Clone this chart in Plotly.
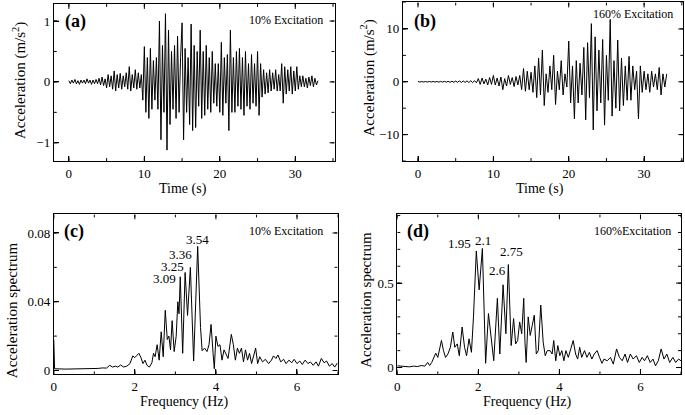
import numpy as np
import plotly.graph_objects as go

# ---------------- data ----------------
dt_a = 0.2
acc_a = [
    0.02, -0.03, 0.03, -0.02, 0.04,
    -0.03, 0.02, -0.04, 0.03, -0.02,
    0.03, -0.03, 0.05, -0.02, 0.03,
    -0.04, 0.03, -0.03, 0.04, -0.03,
    0.06, -0.05, 0.08, -0.06, 0.05,
    -0.10, 0.12, -0.08, 0.10, -0.12,
    0.18, -0.15, 0.12, -0.10, 0.14,
    -0.12, 0.10, -0.08, 0.15, -0.12,
    0.25, -0.15, 0.12, -0.10, 0.20,
    -0.12, 0.15, -0.10, 0.12, -0.30,
    0.58, -0.50, 0.40, -0.60, 0.55,
    -0.45, 0.35, -0.30, 0.40, -0.45,
    1.00, -0.95, 0.60, -0.50, 1.12,
    -1.12, 0.85, -0.70, 0.50, -0.45,
    0.60, -0.60, 0.75, -0.50, 0.40,
    0.97, -0.95, 0.55, -0.50, 0.40,
    -0.70, 0.95, -0.80, 0.60, -0.75,
    0.50, -0.40, 0.85, -0.60, 0.50,
    -0.55, 0.60, -0.45, 0.40, -0.50,
    0.50, -0.35, 0.30, -0.40, 0.30,
    -0.50, 0.65, -0.55, 0.40, -0.35,
    0.45, -0.80, 0.85, -0.50, 0.40,
    -0.50, 0.50, -0.40, 0.55, -0.45,
    0.40, -0.55, 0.50, -0.40, 0.30,
    -0.45, 0.45, -0.35, 0.30, -0.40,
    0.50, -0.55, 0.30, -0.25, 0.20,
    -0.20, 0.15, -0.18, 0.20, -0.15,
    0.15, -0.12, 0.20, -0.15, 0.12,
    -0.15, 0.30, -0.35, 0.25, -0.20,
    0.20, -0.15, 0.25, -0.20, 0.18,
    -0.15, 0.25, -0.12, 0.10, -0.08,
    0.10, -0.08, 0.06, -0.10, 0.08,
    -0.06, 0.10, -0.08, 0.06, -0.05,
    0.02,
]

dt_b = 0.25
acc_b = [
    0.05, -0.05, 0.05, -0.05,
    0.05, -0.05, 0.06, -0.05,
    0.06, -0.06, 0.05, -0.06,
    0.07, -0.06, 0.08, -0.07,
    0.08, -0.10, 0.10, -0.08,
    0.12, -0.10, 0.15, -0.12,
    0.15, -0.12, 0.18, -0.15,
    0.20, -0.15, 0.20, -0.18,
    0.60, -0.50, 0.70, -0.40,
    0.50, -0.60, 0.80, -0.50,
    1.20, -0.60, 0.70, -0.80,
    0.90, -1.50, 0.60, -0.80,
    1.20, -0.50, 0.80, -0.90,
    1.00, -0.60, 1.20, -1.50,
    2.50, -1.80, 2.00, -1.50,
    1.80, -2.00, 3.00, -3.00,
    4.50, -2.50, 6.00, -4.50,
    1.50, -2.00, 3.00, -1.50,
    5.00, -4.30, 2.00, -1.50,
    4.00, -2.50, 1.50, -1.00,
    7.70, -4.00, 3.00, -7.00,
    4.00, -4.00, 3.50, -2.50,
    6.50, -7.20, 7.40, -3.00,
    11.00, -9.10, 8.50, -5.50,
    6.00, -4.00, 8.00, -8.20,
    5.00, -3.50, 11.80, -6.50,
    4.00, -5.00, 7.90, -5.50,
    4.50, -4.50, 3.00, -3.50,
    4.80, -3.50, 3.00, -1.50,
    2.00, -7.00, 3.00, -2.00,
    2.00, -1.50, 1.50, -2.00,
    2.00, -1.00, 1.50, -1.50,
    2.70, -2.50, 1.50, -1.00,
    1.50,
]

freq_c = [0.00, 0.02, 0.3, 0.6, 0.9, 1.0, 1.1, 1.2, 1.3, 1.38, 1.45, 1.52, 1.58, 1.65, 1.72,
          1.8, 1.88, 1.95, 2.0, 2.05, 2.1, 2.15, 2.2, 2.25, 2.3, 2.36, 2.42, 2.46, 2.5, 2.55,
          2.6, 2.65, 2.7, 2.75, 2.8, 2.84, 2.88, 2.92, 2.97, 3.02, 3.06, 3.09, 3.12, 3.18, 3.24,
          3.3, 3.37, 3.45, 3.55, 3.62, 3.66, 3.72, 3.78, 3.83, 3.88, 3.93, 3.96, 4.0, 4.05, 4.1,
          4.15, 4.2, 4.26, 4.3, 4.38, 4.43, 4.48, 4.53, 4.58, 4.63, 4.68, 4.73, 4.78, 4.83, 4.88,
          4.93, 4.98, 5.03, 5.08, 5.15, 5.22, 5.3, 5.37, 5.42, 5.48, 5.53, 5.6, 5.67, 5.73, 5.8,
          5.87, 5.93, 6.0, 6.07, 6.13, 6.2, 6.27, 6.33, 6.4, 6.47, 6.53, 6.6, 6.67, 6.73, 6.8,
          6.87, 6.93, 7.0]
spec_c = [0.018, 0.001, 0.0008, 0.0008, 0.0009, 0.0012, 0.0012, 0.0015, 0.0014, 0.003, 0.002,
          0.0025, 0.002, 0.0032, 0.002, 0.0025, 0.004, 0.0085, 0.0075, 0.0088, 0.0100, 0.0075,
          0.0040, 0.0060, 0.0030, 0.0020, 0.0045, 0.0100, 0.0080, 0.0150, 0.0060, 0.0225, 0.0080,
          0.0350, 0.0180, 0.0200, 0.0120, 0.0290, 0.0110, 0.0200, 0.0400, 0.0330, 0.0545, 0.0100,
          0.0570, 0.0320, 0.0600, 0.0055, 0.0722, 0.0250, 0.0115, 0.0130, 0.0110, 0.0150, 0.0268,
          0.0100, 0.0010, 0.0200, 0.0140, 0.0150, 0.0060, 0.0120, 0.0090, 0.0070, 0.0210, 0.0150,
          0.0060, 0.0130, 0.0100, 0.0130, 0.0050, 0.0120, 0.0060, 0.0100, 0.0040, 0.0090, 0.0130,
          0.0040, 0.0080, 0.0050, 0.0065, 0.0040, 0.0060, 0.0085, 0.0070, 0.0090, 0.0050, 0.0065,
          0.0040, 0.0060, 0.0045, 0.0065, 0.0040, 0.0055, 0.0035, 0.0060, 0.0040, 0.0050, 0.0030,
          0.0050, 0.0025, 0.0070, 0.0045, 0.0055, 0.0025, 0.0040, 0.0020, 0.0045]

freq_d = [0.0, 0.1, 0.2, 0.3, 0.4, 0.5, 0.6, 0.68, 0.75, 0.8, 0.85, 0.9, 0.95, 1.0, 1.04, 1.09,
          1.14, 1.19, 1.25, 1.31, 1.37, 1.42, 1.48, 1.53, 1.6, 1.66, 1.71, 1.77, 1.83, 1.88, 1.95,
          2.02, 2.1, 2.18, 2.25, 2.31, 2.38, 2.47, 2.53, 2.61, 2.68, 2.74, 2.81, 2.87, 2.92, 2.97,
          3.02, 3.07, 3.12, 3.15, 3.18, 3.23, 3.28, 3.33, 3.38, 3.43, 3.48, 3.54, 3.6, 3.65, 3.7,
          3.77, 3.82, 3.86, 3.91, 3.96, 4.01, 4.06, 4.11, 4.16, 4.22, 4.28, 4.34, 4.4, 4.45, 4.5,
          4.55, 4.62, 4.68, 4.74, 4.8, 4.86, 4.93, 4.99, 5.05, 5.1, 5.18, 5.26, 5.33, 5.41, 5.48,
          5.55, 5.62, 5.68, 5.75, 5.82, 5.9, 5.97, 6.04, 6.1, 6.17, 6.24, 6.31, 6.37, 6.44, 6.51,
          6.58, 6.65, 6.72, 6.8, 6.87, 6.94, 7.0]
spec_d = [0.010, 0.008, 0.006, 0.004, 0.008, 0.006, 0.012, 0.008, 0.030, 0.012, 0.030, 0.060,
          0.085, 0.060, 0.100, 0.160, 0.100, 0.060, 0.080, 0.120, 0.210, 0.120, 0.140, 0.070,
          0.240, 0.120, 0.070, 0.170, 0.090, 0.300, 0.690, 0.460, 0.705, 0.025, 0.320, 0.200,
          0.040, 0.410, 0.080, 0.490, 0.200, 0.610, 0.130, 0.290, 0.140, 0.160, 0.270, 0.200,
          0.410, 0.150, 0.030, 0.300, 0.190, 0.250, 0.310, 0.080, 0.100, 0.370, 0.150, 0.070,
          0.100, 0.100, 0.080, 0.160, 0.040, 0.130, 0.070, 0.100, 0.040, 0.100, 0.060, 0.110,
          0.160, 0.080, 0.050, 0.120, 0.060, 0.100, 0.060, 0.090, 0.050, 0.080, 0.100, 0.060,
          0.025, 0.050, 0.040, 0.060, 0.020, 0.110, 0.060, 0.040, 0.080, 0.030, 0.080, 0.050,
          0.070, 0.030, 0.060, 0.040, 0.070, 0.030, 0.050, 0.010, 0.040, 0.110, 0.050, 0.080,
          0.030, 0.060, 0.030, 0.050, 0.040]

peaks_c = ["3.09", "3.25", "3.36", "3.54"]
peaks_d = ["1.95", "2.1", "2.6", "2.75"]

t_a = [i * dt_a for i in range(len(acc_a))]
t_b = [i * dt_b for i in range(len(acc_b))]

# ---------------- figure ----------------
W, H = 685, 415
M = 1  # small page margin; paper coordinates below are relative to the inner area
FONT = "Liberation Serif"


def fx_px(x):
    return (x - M) / (W - 2 * M)


def fy_px(y):
    return 1 - (y - M) / (H - 2 * M)


panels = [
    dict(px=(51, 333, 3, 162), xr=[-2, 35.2], yr=[-1.3, 1.28], xt=(10, 5), yt=(1, 0.5)),
    dict(px=(401.7, 683.3, 1.5, 162), xr=[-2, 35.2], yr=[-15, 15], xt=(10, 5), yt=(10, 5)),
    dict(px=(51, 336, 216, 378), xr=[0, 7], yr=[-0.0023, 0.0908], xt=(2, 1), yt=(0.04, 0.02)),
    dict(px=(396, 681, 216, 378), xr=[0, 7], yr=[-0.041, 0.907], xt=(2, 1), yt=(0.5, 0.1)),
]
series = [(t_a, acc_a), (t_b, acc_b), (freq_c, spec_c), (freq_d, spec_d)]


def tick_values(rng, step):
    k0 = int(np.ceil(rng[0] / step - 1e-9))
    k1 = int(np.floor(rng[1] / step + 1e-9))
    return [float(k * step) for k in range(k0, k1 + 1)]


fig = go.Figure()
layout = dict(
    width=W, height=H, margin=dict(l=M, r=M, t=M, b=M, pad=0), showlegend=False,
    paper_bgcolor="white", plot_bgcolor="white",
    font=dict(family=FONT, color="black"),
)

for i, p in enumerate(panels):
    sfx = "" if i == 0 else str(i + 1)
    l, r, t, b = p["px"]
    xr, yr = p["xr"], p["yr"]
    xs, ys = series[i]
    fig.add_trace(go.Scatter(x=xs, y=ys, mode="lines", line=dict(color="black", width=1),
                             xaxis="x" + sfx, yaxis="y" + sfx))
    common = dict(showline=True, linecolor="black", linewidth=1, mirror=True,
                  ticks="inside", ticklen=5, tickcolor="black", tickwidth=1,
                  showgrid=False, zeroline=False, tick0=0,
                  tickfont=dict(family=FONT, size=13, color="black"))
    layout["xaxis" + sfx] = dict(domain=[max(0, fx_px(l)), min(1, fx_px(r))], range=xr,
                                 anchor="y" + sfx, dtick=p["xt"][0], **common)
    layout["yaxis" + sfx] = dict(domain=[max(0, fy_px(b)), min(1, fy_px(t))], range=yr,
                                 anchor="x" + sfx, dtick=p["yt"][0], **common)
    # mirrored and minor ticks as a line trace in axis units
    ux = (xr[1] - xr[0]) / (r - l)
    uy = (yr[1] - yr[0]) / (b - t)
    fx, fy = [], []
    for step, ln in ((p["xt"][0], 5), (p["xt"][1], 3)):
        for v in tick_values(xr, step):
            fx += [v, v, None, v, v, None]
            fy += [yr[0], yr[0] + ln * uy, None, yr[1], yr[1] - ln * uy, None]
    for step, ln in ((p["yt"][0], 5), (p["yt"][1], 3)):
        for v in tick_values(yr, step):
            fx += [xr[0], xr[0] + ln * ux, None, xr[1], xr[1] - ln * ux, None]
            fy += [v, v, None, v, v, None]
    fig.add_trace(go.Scatter(x=fx, y=fy, mode="lines", line=dict(color="black", width=1),
                             xaxis="x" + sfx, yaxis="y" + sfx, hoverinfo="skip"))

fig.update_layout(**layout)


def note(x, y, text, size, xanchor="center", bold=False, angle=0):
    fig.add_annotation(
        x=fx_px(x), y=fy_px(y), xref="paper", yref="paper",
        text=f"<b>{text}</b>" if bold else text,
        showarrow=False, xanchor=xanchor, yanchor="middle", textangle=angle,
        font=dict(family=FONT, size=size, color="black"),
    )


note(73, 21, "(a)", 18, bold=True)
note(424, 21, "(b)", 18, bold=True)
note(71, 233, "(c)", 18, bold=True)
note(417, 233, "(d)", 18, bold=True)

note(323, 19, "10% Excitation", 12, xanchor="right")
note(675, 13, "160% Excitation", 12, xanchor="right")
note(323, 233, "10% Excitation", 12, xanchor="right")
note(673, 233, "160%Excitation", 12, xanchor="right")

note(16, 80, "Acceleration (m/s<sup>2</sup>)", 15, angle=-90)
note(366, 78, "Acceleration (m/s<sup>2</sup>)", 15, angle=-90)
note(181, 190, "Time (s)", 14)
note(539, 190, "Time (s)", 14)
note(9, 313, "Acceleration spectrum", 15, angle=-90)
note(365, 302, "Acceleration spectrum", 15, angle=-90)
note(182, 406, "Frequency (Hz)", 14)
note(527, 406, "Frequency (Hz)", 14)

pc_x = [2.73, 2.93, 3.135, 3.55]
pc_y = [0.0534, 0.0603, 0.0674, 0.076]
for lab, xx, yy in zip(peaks_c, pc_x, pc_y):
    fig.add_annotation(x=xx, y=yy, xref="x3", yref="y3", text=lab, showarrow=False,
                       font=dict(family=FONT, size=13, color="black"))
pd_x = [1.53, 2.12, 2.47, 2.81]
pd_y = [0.734, 0.753, 0.572, 0.685]
for lab, xx, yy in zip(peaks_d, pd_x, pd_y):
    fig.add_annotation(x=xx, y=yy, xref="x4", yref="y4", text=lab, showarrow=False,
                       font=dict(family=FONT, size=13, color="black"))

fig.write_html(
    "out.html",
    config={"displayModeBar": False},
    post_script="document.body.style.margin='0';",
)
